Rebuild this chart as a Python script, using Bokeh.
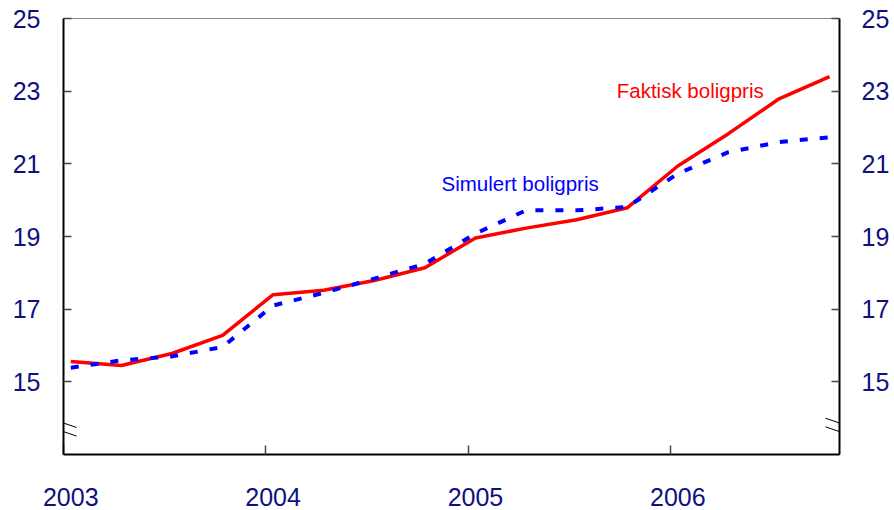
from bokeh.plotting import figure
from bokeh.models import FixedTicker, LinearAxis, Range1d, Label, Arrow, NumeralTickFormatter
from bokeh.embed import file_html
from bokeh.resources import INLINE

# ---- data (quarterly, 2003 Q1 - 2006 Q4) ----
years = [2003, 2003, 2003, 2003, 2004, 2004, 2004, 2004,
         2005, 2005, 2005, 2005, 2006, 2006, 2006, 2006]
quarter = [1, 2, 3, 4, 1, 2, 3, 4, 1, 2, 3, 4, 1, 2, 3, 4]
faktisk = [15.56, 15.45, 15.78, 16.28, 17.40, 17.52, 17.79, 18.14,
           18.96, 19.23, 19.46, 19.79, 20.94, 21.83, 22.79, 23.40]
simulert = [15.39, 15.59, 15.70, 15.96, 17.10, 17.45, 17.84, 18.25,
            19.08, 19.72, 19.72, 19.81, 20.73, 21.32, 21.60, 21.73]
tick_years = [2003, 2004, 2005, 2006]
y_ticks = [15, 17, 19, 21, 23, 25]
label_faktisk = "Faktisk boligpris"
label_simulert = "Simulert boligpris"

# position of each quarter within the year
OFFSET = 0.036
xs = [y + (q - 1) / 4 + OFFSET for y, q in zip(years, quarter)]

NAVY = "#10107f"
FONT = "Liberation Sans"

X0, X1 = 2003, 2006.835
Y0, Y1 = 13, 25
FW, FH = 776, 436

p = figure(frame_width=FW, frame_height=FH,
           x_range=Range1d(X0, X1), y_range=Range1d(Y0, Y1),
           output_backend="svg", toolbar_location=None,
           min_border_left=63, min_border_right=55,
           min_border_top=18, min_border_bottom=56)
p.grid.visible = False
p.outline_line_color = "#888888"
p.outline_line_width = 1
p.background_fill_color = "white"
p.border_fill_color = "white"

# series
p.line(xs, faktisk, line_color="#ff0000", line_width=3.5)
p.line(xs, simulert, line_color="#0000ff", line_width=4, line_dash="8 12")

# x axis
xa = p.xaxis[0]
xa.ticker = FixedTicker(ticks=[y + OFFSET for y in tick_years], minor_ticks=tick_years)
xa.formatter = NumeralTickFormatter(format="0")
xa.major_tick_in = 0
xa.major_tick_out = 0
xa.minor_tick_in = 9
xa.minor_tick_out = 0
xa.minor_tick_line_color = "#444444"
xa.minor_tick_line_width = 1.5
xa.axis_line_color = "black"
xa.axis_line_width = 2
xa.major_label_text_font = FONT
xa.major_label_text_font_size = "25px"
xa.major_label_text_color = NAVY
xa.major_label_standoff = 33


def style_y(ax, standoff):
    ax.ticker = FixedTicker(ticks=y_ticks, minor_ticks=[])
    ax.major_tick_in = 8
    ax.major_tick_out = 0
    ax.major_tick_line_color = "#444444"
    ax.major_tick_line_width = 1.5
    ax.minor_tick_line_color = None
    ax.axis_line_color = "black"
    ax.axis_line_width = 2
    ax.major_label_text_font = FONT
    ax.major_label_text_font_size = "25px"
    ax.major_label_text_color = NAVY
    ax.major_label_standoff = standoff


style_y(p.yaxis[0], 23)
ra = LinearAxis()
style_y(ra, 22)
p.add_layout(ra, "right")

# series labels
p.add_layout(Label(x=2005.734, y=23.03, text=label_faktisk, text_color="#ff0000",
                   text_font=FONT, text_font_size="20.5px", text_baseline="alphabetic"))
p.add_layout(Label(x=2004.868, y=20.46, text=label_simulert, text_color="#0000ff",
                   text_font=FONT, text_font_size="20.5px", text_baseline="alphabetic"))

# axis break marks
pxx = FW / (X1 - X0)
pxy = FH / (Y1 - Y0)
for xc in (X0, X1):
    for dy in (0, 8.6):
        ys = Y1 - (417.7 - 18 + dy) / pxy
        ye = Y1 - (427.0 - 18 + dy) / pxy
        p.add_layout(Arrow(end=None, x_start=xc - 14 / pxx, y_start=ys,
                           x_end=xc + 13 / pxx, y_end=ye,
                           line_color="black", line_width=1))

open("out.html", "w").write(file_html(p, INLINE))
